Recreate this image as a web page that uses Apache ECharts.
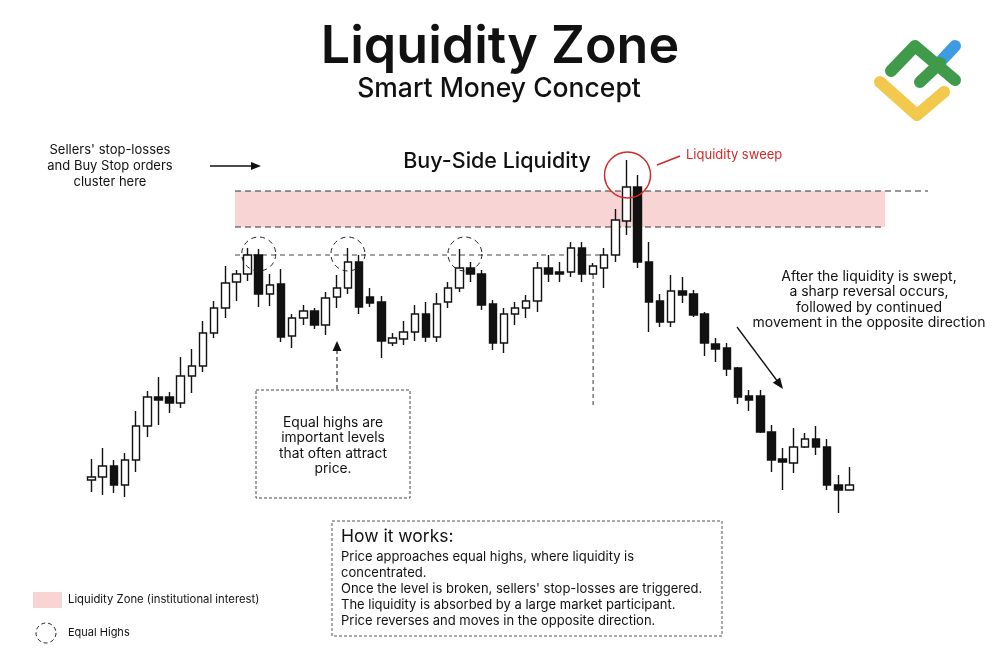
<!DOCTYPE html>
<html>
<head>
<meta charset="utf-8">
<script src="https://cdn.jsdelivr.net/npm/echarts@6/dist/echarts.min.js"></script>
<style>
  html, body { margin: 0; padding: 0; background: #ffffff; }
  #chart { width: 1000px; height: 668px; }
</style>
</head>
<body>
<div id="chart"></div>
<script>
// ---------- DATA (price units) ----------
const categories = Array.from({ length: 69 }, (_, i) => 'Bar ' + (i + 1));
const opens  = [188,191,202,183,208,242,271,271,265,292,302,335,360,386,394,
                413,374,384,332,350,357,343,371,380,406,371,366,325,329,336,354,331,
                366,380,400,394,364,325,354,360,367,400,396,396,420,394,400,413,
                447,481,406,367,346,377,374,354,324,320,300,272,272,236,209,205,221,229,221,183,178];
const closes = [191,202,183,208,242,271,268,265,292,302,335,360,385,394,413,
                374,383,331,350,357,343,370,380,406,361,365,327,330,336,354,331,364,
                380,400,394,363,325,354,360,367,400,394,394,420,394,402,413,448,
                481,406,366,346,377,373,353,325,319,299,271,268,236,208,206,221,229,221,183,178,183];
const lows   = [176,173,175,171,196,231,243,255,260,275,296,330,350,367,387,
                361,362,326,320,343,339,333,360,374,354,361,310,322,323,327,326,326,
                360,376,386,358,318,315,343,350,356,386,386,391,386,393,380,406,
                433,400,336,341,341,365,351,312,306,292,264,257,235,196,178,195,220,213,178,155,178];
const highs  = [209,220,208,215,257,277,291,276,311,319,347,367,402,398,420,
                419,394,399,354,363,360,376,393,420,413,380,372,335,347,363,366,375,
                386,419,406,398,368,360,366,373,406,413,406,426,426,405,420,459,
                508,493,426,374,393,391,378,356,330,325,301,278,278,243,220,240,235,242,229,193,201];

const zoneLevels      = [477, 441];          // liquidity zone top / bottom
const equalHighLevel  = 413;                 // equal highs line
const equalHighBars   = [15, 23, 33.5];      // bars (0-based) with equal highs
const sweepBar        = 48;                  // liquidity sweep bar (0-based)
const breakBar        = 45;                  // bar marked by vertical dashed line

const FONT = 'Inter, "Noto Sans", sans-serif';
const INK = '#111111';
const PINK = '#f9d4d5';
const RED = '#d22a2a';

const candleData = opens.map((o, i) => [o, closes[i], lows[i], highs[i]]);

const chart = echarts.init(document.getElementById('chart'), null, { renderer: 'canvas' });

chart.setOption({
  backgroundColor: '#ffffff',
  animation: false,
  grid: { left: 86, right: 145, top: 0, bottom: 0 },
  xAxis: {
    type: 'category', data: categories, boundaryGap: true,
    show: false
  },
  yAxis: { type: 'value', min: 0, max: 668, show: false },
  series: [{
    type: 'candlestick',
    data: candleData,
    barWidth: 8,
    z: 5,
    itemStyle: {
      color: '#ffffff', color0: INK,
      borderColor: INK, borderColor0: INK,
      borderWidth: 1.4
    }
  }]
});

function px(idx, val) {
  const lo = Math.floor(idx), hi = Math.ceil(idx);
  const a = chart.convertToPixel({ gridIndex: 0 }, [lo, val]);
  const b = chart.convertToPixel({ gridIndex: 0 }, [hi, val]);
  const t = idx - lo;
  return [a[0] + (b[0] - a[0]) * t, a[1]];
}
function yOf(val) { return chart.convertToPixel({ yAxisIndex: 0 }, val); }

function arrowHead(x1, y1, x2, y2, len, w) {
  const dx = x2 - x1, dy = y2 - y1, d = Math.hypot(dx, dy);
  const ux = dx / d, uy = dy / d;
  const bx = x2 - ux * len, by = y2 - uy * len;
  return [[x2, y2], [bx - uy * w, by + ux * w], [bx + uy * w, by - ux * w]];
}

const g = [];
const dash = { stroke: '#333', lineWidth: 1, lineDash: [6, 4] };

// liquidity zone
const zTop = yOf(zoneLevels[0]), zBot = yOf(zoneLevels[1]);
g.push({ type: 'rect', z: -10, shape: { x: 235, y: zTop, width: 650, height: zBot - zTop }, style: { fill: PINK } });
g.push({ type: 'line', z: 1, shape: { x1: 235, y1: zTop, x2: 928, y2: zTop }, style: dash });
g.push({ type: 'line', z: 1, shape: { x1: 235, y1: zBot, x2: 885, y2: zBot }, style: dash });

// equal highs line
const eqY = yOf(equalHighLevel);
g.push({ type: 'line', z: 1, shape: { x1: 235, y1: eqY, x2: 605, y2: eqY }, style: { stroke: '#444', lineWidth: 1, lineDash: [5, 4] } });

// equal highs circles
equalHighBars.forEach(b => {
  const p = px(b, equalHighLevel + 1);
  g.push({ type: 'circle', z: 20, shape: { cx: p[0], cy: p[1], r: 17 }, style: { fill: 'none', stroke: '#222', lineWidth: 1, lineDash: [5, 4] } });
});

// vertical dashed line at break bar
const vb = px(breakBar, lows[breakBar]);
g.push({ type: 'line', z: 1, shape: { x1: vb[0], y1: vb[1], x2: vb[0], y2: 405 }, style: { stroke: '#333', lineWidth: 1, lineDash: [4, 3] } });

// sweep circle + pointer
const sw = px(sweepBar, 493);
g.push({ type: 'circle', z: 20, shape: { cx: sw[0] + 1, cy: sw[1], r: 23 }, style: { fill: 'none', stroke: RED, lineWidth: 1.5 } });
g.push({ type: 'line', z: 20, shape: { x1: 657, y1: 165, x2: 680, y2: 156 }, style: { stroke: RED, lineWidth: 1.5 } });
g.push({ type: 'text', z: 20, style: { text: 'Liquidity sweep', x: 686, y: 155, fill: RED, fontSize: 13, fontFamily: FONT, textAlign: 'left', textVerticalAlign: 'middle', verticalAlign: 'middle' } });

// titles
g.push({ type: 'text', z: 20, style: { text: 'Liquidity Zone', x: 500, y: 47, fill: '#111', fontSize: 52, fontWeight: 600, fontFamily: FONT, textAlign: 'center', textVerticalAlign: 'middle', verticalAlign: 'middle' } });
g.push({ type: 'text', z: 20, style: { text: 'Smart Money Concept', x: 499, y: 89, fill: '#111', fontSize: 26.5, fontWeight: 500, fontFamily: FONT, textAlign: 'center', textVerticalAlign: 'middle', verticalAlign: 'middle' } });

// left note + arrow
g.push({ type: 'text', z: 20, style: { text: "Sellers' stop-losses\nand Buy Stop orders\ncluster here", x: 110, y: 166, fill: '#111', fontSize: 13, lineHeight: 16, fontFamily: FONT, textAlign: 'center', textVerticalAlign: 'middle', verticalAlign: 'middle', align: 'center' } });
g.push({ type: 'line', z: 20, shape: { x1: 210, y1: 166, x2: 252, y2: 166 }, style: { stroke: '#111', lineWidth: 1.3 } });
g.push({ type: 'polygon', z: 20, shape: { points: arrowHead(210, 166, 261, 166, 10, 4) }, style: { fill: '#111' } });

g.push({ type: 'text', z: 20, style: { text: 'Buy-Side Liquidity', x: 497, y: 162, fill: '#111', fontSize: 21.5, fontWeight: 500, fontFamily: FONT, textAlign: 'center', textVerticalAlign: 'middle', verticalAlign: 'middle' } });

// right note + arrow
g.push({ type: 'text', z: 20, style: { text: 'After the liquidity is swept,\na sharp reversal occurs,\nfollowed by continued\nmovement in the opposite direction', x: 869, y: 300, fill: '#111', fontSize: 14, lineHeight: 15.5, fontFamily: FONT, textAlign: 'center', textVerticalAlign: 'middle', verticalAlign: 'middle', align: 'center' } });
g.push({ type: 'line', z: 20, shape: { x1: 737, y1: 327, x2: 778, y2: 382 }, style: { stroke: '#111', lineWidth: 1.3 } });
g.push({ type: 'polygon', z: 20, shape: { points: arrowHead(737, 327, 783, 389, 11, 4.5) }, style: { fill: '#111' } });

// equal highs box + arrow
g.push({ type: 'rect', z: 20, shape: { x: 256, y: 390, width: 154, height: 108 }, style: { fill: 'none', stroke: '#444', lineWidth: 1, lineDash: [3, 2] } });
g.push({ type: 'text', z: 20, style: { text: 'Equal highs are\nimportant levels\nthat often attract\nprice.', x: 333, y: 446, fill: '#111', fontSize: 13.8, lineHeight: 15.5, fontFamily: FONT, textAlign: 'center', textVerticalAlign: 'middle', verticalAlign: 'middle', align: 'center' } });
g.push({ type: 'line', z: 20, shape: { x1: 337, y1: 389, x2: 337, y2: 350 }, style: { stroke: '#333', lineWidth: 1.2, lineDash: [4, 3] } });
g.push({ type: 'polygon', z: 20, shape: { points: arrowHead(337, 389, 337, 341, 10, 4.5) }, style: { fill: '#111' } });

// how it works box
g.push({ type: 'rect', z: 20, shape: { x: 332, y: 521, width: 390, height: 115 }, style: { fill: 'none', stroke: '#555', lineWidth: 1, lineDash: [3, 2] } });
g.push({ type: 'text', z: 20, style: { text: 'How it works:', x: 341, y: 537, fill: '#111', fontSize: 17.5, fontFamily: FONT, textAlign: 'left', textVerticalAlign: 'middle', verticalAlign: 'middle' } });
g.push({ type: 'text', z: 20, style: { text: "Price approaches equal highs, where liquidity is\nconcentrated.\nOnce the level is broken, sellers' stop-losses are triggered.\nThe liquidity is absorbed by a large market participant.\nPrice reverses and moves in the opposite direction.", x: 341, y: 589, fill: '#111', fontSize: 13, lineHeight: 16, fontFamily: FONT, textAlign: 'left', textVerticalAlign: 'middle', verticalAlign: 'middle' } });

// legend
g.push({ type: 'rect', z: 20, shape: { x: 33, y: 592, width: 29, height: 16 }, style: { fill: PINK } });
g.push({ type: 'text', z: 20, style: { text: 'Liquidity Zone (institutional interest)', x: 68, y: 600, fill: '#111', fontSize: 11.3, fontFamily: FONT, textAlign: 'left', textVerticalAlign: 'middle', verticalAlign: 'middle' } });
g.push({ type: 'circle', z: 20, shape: { cx: 46, cy: 633, r: 10 }, style: { fill: 'none', stroke: '#222', lineWidth: 1, lineDash: [4, 3] } });
g.push({ type: 'text', z: 20, style: { text: 'Equal Highs', x: 68, y: 633, fill: '#111', fontSize: 11, fontFamily: FONT, textAlign: 'left', textVerticalAlign: 'middle', verticalAlign: 'middle' } });

// logo
const logoLine = (pts, color) => ({ type: 'polyline', z: 30, shape: { points: pts }, style: { stroke: color, lineWidth: 12, lineCap: 'round', lineJoin: 'round', fill: 'none' } });
g.push(logoLine([[880, 82], [917, 115], [944, 92]], '#f2c94c'));
g.push(logoLine([[940, 62], [955, 46]], '#3d9be2'));
g.push(logoLine([[920, 82], [940, 63]], '#3f9a4a'));
g.push(logoLine([[891, 71], [915, 46], [955, 80]], '#3f9a4a'));

chart.setOption({ graphic: g });
</script>
</body>
</html>
